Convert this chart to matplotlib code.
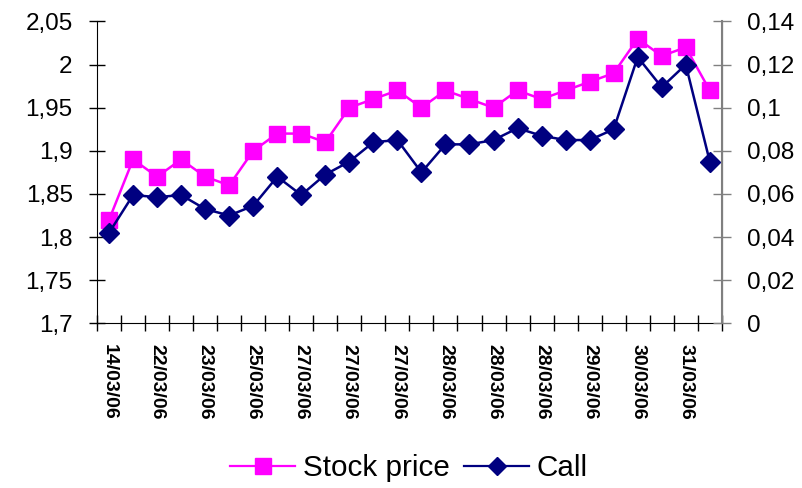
import matplotlib
matplotlib.use("Agg")
import matplotlib.pyplot as plt
from matplotlib.ticker import FuncFormatter, FixedLocator
from matplotlib.lines import Line2D

plt.rcParams['font.family'] = ['Liberation Sans', 'DejaVu Sans']

tick_labels = ["14/03/06", "22/03/06", "23/03/06", "25/03/06", "27/03/06", "27/03/06",
               "27/03/06", "28/03/06", "28/03/06", "28/03/06", "29/03/06", "30/03/06", "31/03/06"]

stock_price = [1.82, 1.89, 1.87, 1.89, 1.87, 1.86, 1.90, 1.92, 1.92, 1.91, 1.95, 1.96, 1.97,
               1.95, 1.97, 1.96, 1.95, 1.97, 1.96, 1.97, 1.98, 1.99, 2.03, 2.01, 2.02, 1.97]

call = [0.042, 0.0595, 0.0585, 0.0595, 0.053, 0.050, 0.0545, 0.068, 0.0595, 0.069, 0.075, 0.084,
        0.085, 0.070, 0.083, 0.083, 0.085, 0.0905, 0.087, 0.085, 0.085, 0.090, 0.1235, 0.1095,
        0.120, 0.075]

n = len(stock_price)
x = list(range(n))

fig = plt.figure(figsize=(8.02, 4.88), dpi=100)
ax = fig.add_axes([0.121, 0.3375, 0.779, 0.6185])
ax2 = ax.twinx()

ax.plot(x, stock_price, color='#FF00FF', lw=1.8, marker='s', markersize=11.5,
        markeredgecolor='#FF00FF', markerfacecolor='#FF00FF', zorder=3)
ax2.plot(x, call, color='#000080', lw=1.8, marker='D', markersize=10,
         markeredgecolor='#000080', markerfacecolor='#000080', zorder=3)

ax.set_xlim(-0.5, n - 0.5)
ax.set_ylim(1.7, 2.05)
ax2.set_ylim(0, 0.14)

ax.set_yticks([1.7 + 0.05 * i for i in range(8)])
ax2.set_yticks([0.02 * i for i in range(8)])

def comma_fmt(v, pos):
    s = ('%.2f' % v).rstrip('0').rstrip('.')
    return s.replace('.', ',')

ax.yaxis.set_major_formatter(FuncFormatter(comma_fmt))
ax2.yaxis.set_major_formatter(FuncFormatter(comma_fmt))

# x axis: ticks on category boundaries, labels on every second category
ax.xaxis.set_major_locator(FixedLocator([i - 0.5 for i in range(n + 1)]))
ax.xaxis.set_major_formatter(FuncFormatter(lambda v, p: ''))
label_pos = list(range(0, n, 2))[:len(tick_labels)]
ax.xaxis.set_minor_locator(FixedLocator(label_pos))
ax.set_xticklabels(tick_labels, minor=True)
ax.tick_params(axis='x', which='major', direction='inout', length=12, width=1, color='black')
ax.tick_params(axis='x', which='minor', length=0, pad=15, labelsize=14, labelrotation=-90)
for t in ax.get_xticklabels(minor=True):
    t.set_fontweight('bold')
    t.set_va('top')
    t.set_ha('center')

ax.tick_params(axis='y', direction='inout', length=11, width=1, labelsize=17.5, pad=12, color='black')
ax2.tick_params(axis='y', direction='inout', length=13, width=1, labelsize=17.5, pad=12, color='#808080')

for a in (ax, ax2):
    a.spines['top'].set_visible(False)
ax.spines['left'].set_color('black')
ax.spines['bottom'].set_color('black')
ax2.spines['left'].set_visible(False)
ax2.spines['bottom'].set_visible(False)
ax2.spines['right'].set_color('#808080')
ax2.spines['right'].set_linewidth(1.5)

handles = [
    Line2D([], [], color='#FF00FF', lw=1.6, marker='s', markersize=11.5),
    Line2D([], [], color='#000080', lw=1.6, marker='D', markersize=9.5),
]
fig.legend(handles, ['Stock price', 'Call'], loc='center', bbox_to_anchor=(0.51, 0.04),
           ncol=2, frameon=False, fontsize=21.3, handlelength=2.2, handletextpad=0.25,
           columnspacing=0.5, borderpad=0.1)

fig.savefig('out.png', dpi=100)
